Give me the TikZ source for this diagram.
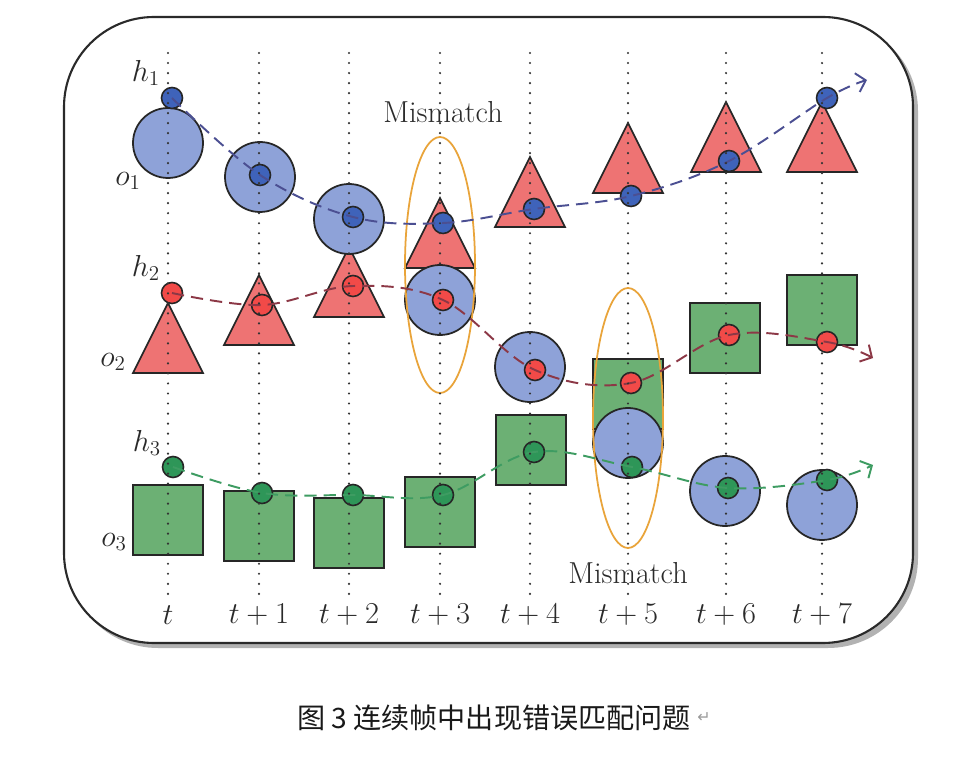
\documentclass[tikz,border=0pt]{standalone}
\usepackage{fontspec}
\usepackage{tikz}
\usetikzlibrary{arrows.meta,positioning}

\newfontfamily\cjk{Noto Sans CJK SC}
\newfontfamily\symb{DejaVu Sans}

\definecolor{discfill}{HTML}{8EA2D8}
\definecolor{trifill}{HTML}{EE7373}
\definecolor{boxfill}{HTML}{6CB074}
\definecolor{dotblue}{HTML}{3F63BA}
\definecolor{dotred}{HTML}{F24A48}
\definecolor{dotgreen}{HTML}{2E9658}
\definecolor{trackblue}{HTML}{4B4F92}
\definecolor{trackred}{HTML}{8C3846}
\definecolor{trackgreen}{HTML}{3E9C62}
\definecolor{ringorange}{HTML}{E9A43A}
\definecolor{inkgray}{HTML}{2A2A2A}

\tikzset{
  frame/.style={draw=inkgray, line width=1.2pt, fill=white, rounded corners=1.8cm},
  objdisc/.style={draw=black!85, line width=1pt, fill=discfill},
  objtri/.style={draw=black!85, line width=1pt, fill=trifill, line join=miter},
  objbox/.style={draw=black!85, line width=1pt, fill=boxfill},
  hdot/.style={circle, draw=black!85, line width=0.9pt, minimum size=0.42cm, inner sep=0pt},
  track/.style={dash pattern=on 7pt off 4pt, line width=1.1pt, -{Straight Barb[length=5pt,width=11pt]}},
  timeline/.style={draw=black!80, line width=1.4pt, line cap=round, dash pattern=on 0pt off 5.7pt},
  ring/.style={draw=ringorange, line width=1pt},
  lab/.style={font=\LARGE, text=inkgray, inner sep=1pt},
}

\begin{document}
\begin{tikzpicture}[x=0.02cm,y=-0.02cm]
\useasboundingbox (0,0) rectangle (953,766);

% frame and its shadow
\fill[black!30, rounded corners=1.8cm] (68,21) rectangle (918,648);
\draw[frame] (64,17) rectangle (913,643);

% squares (centre)
\foreach \x/\y in {628/394, 725/338, 822/310, 168/520, 259/526, 349/533, 440/512, 531/450}
  \draw[objbox] (\x-35,\y-35) rectangle (\x+35,\y+35);

% triangles (base centre)
\foreach \x/\y in {440/268, 530/227, 628/193, 726/172, 822/172, 168/373, 259/345, 349/317}
  \draw[objtri] (\x-35,\y) -- (\x,\y-70) -- (\x+35,\y) -- cycle;

% circles
\foreach \x/\y in {168/143, 260/177, 349/219, 440/300, 530/367, 628/443, 725/491, 822/505}
  \draw[objdisc] (\x,\y) circle [radius=35];

% mismatch rings
\draw[ring] (440,265) ellipse [x radius=35, y radius=128];
\draw[ring] (628,418) ellipse [x radius=35, y radius=130];

% hypothesis dots
\foreach \x/\y [count=\i] in {172/98, 260/175, 353/217, 443/223, 534/209, 631/196, 729/161, 827/98}
  \node[hdot, fill=dotblue] (b\i) at (\x,\y) {};
\foreach \x/\y [count=\i] in {172/293, 262/305, 353/286, 443/300, 535/370, 631/383, 729/335, 827/342}
  \node[hdot, fill=dotred] (r\i) at (\x,\y) {};
\foreach \x/\y [count=\i] in {173/467, 262/493, 353/495, 443/495, 534/452, 632/467, 728/488, 827/480}
  \node[hdot, fill=dotgreen] (g\i) at (\x,\y) {};

\coordinate (bend) at (867,80);
\coordinate (rend) at (873,358);
\coordinate (gend) at (873,465);

% tracks
\draw[track, trackblue] plot[smooth, tension=.6] coordinates {(b1.center) (b2.center) (b3.center) (b4.center) (b5.center) (b6.center) (b7.center) (b8.center) (bend)};
\draw[track, trackred] plot[smooth, tension=.6] coordinates {(r1.center) (r2.center) (r3.center) (r4.center) (r5.center) (r6.center) (r7.center) (r8.center) (rend)};
\draw[track, trackgreen] plot[smooth, tension=.6] coordinates {(g1.center) (g2.center) (g3.center) (g4.center) (g5.center) (g6.center) (g7.center) (g8.center) (gend)};

% time axis
\foreach \x/\t [count=\i] in {168/t, 259/t+1, 349/t+2, 440/t+3, 530/t+4, 628/t+5, 726/t+6, 822/t+7}
{
  \coordinate (tt\i) at (\x,53);
  \node[lab] (tl\i) at (\x,615) {$\t$};
  \draw[timeline] (tt\i) -- (tt\i |- tl\i.north);
}

% row labels
\node[lab] (h1) at (146,73) {$h_1$};
\node[lab] (o1) at (128,181) {$o_1$};
\node[lab] (h2) at (146,268) {$h_2$};
\node[lab] (o2) at (113,362) {$o_2$};
\node[lab] (h3) at (147,443) {$h_3$};
\node[lab] (o3) at (114,542) {$o_3$};

\node[lab] (mm1) at (443,112) {Mismatch};
\node[lab] (mm2) at (628,573) {Mismatch};

% caption
\node[font=\cjk\fontsize{16}{19}\selectfont, text=black!90] (cap) at (494,718) {图 3 连续帧中出现错误匹配问题};
\node[right=0pt of cap, font=\symb\small, text=black!40, inner sep=0pt] (ret) {↵};
\end{tikzpicture}
\end{document}
